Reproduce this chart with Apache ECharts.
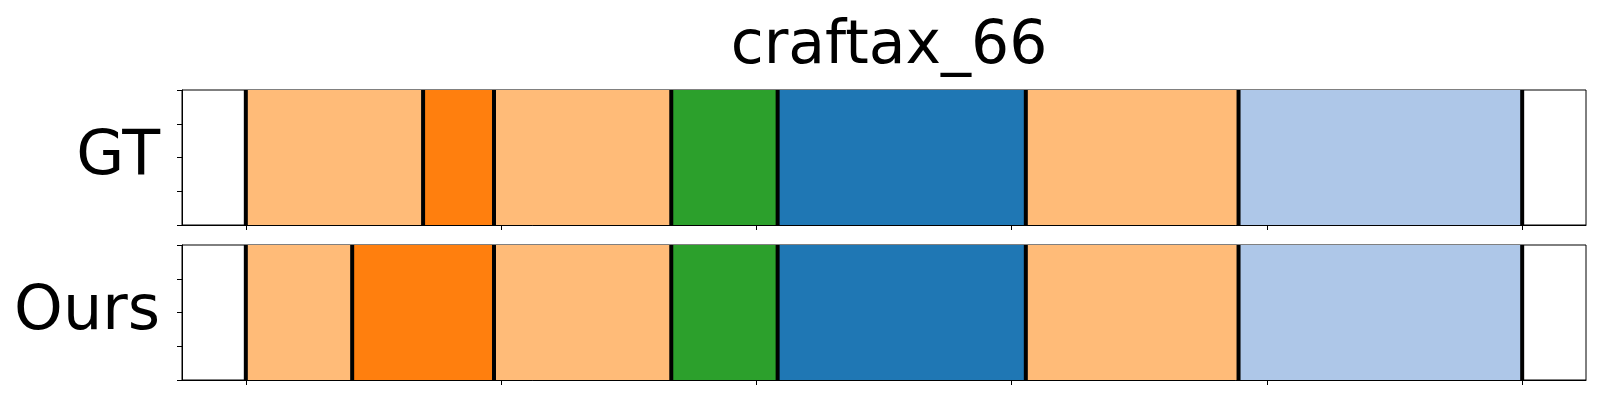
<!DOCTYPE html>
<html>
<head>
<meta charset="utf-8">
<script src="https://cdn.jsdelivr.net/npm/echarts@6/dist/echarts.min.js"></script>
<style>html,body{margin:0;padding:0;background:#fff}#c{width:1600px;height:400px}</style>
</head>
<body>
<div id="c"></div>
<script>
// ---- data ----
const chartTitle = 'craftax_66';
const rowNames = ['GT', 'Ours'];
const totalSteps = 36;
// segment boundaries (in steps) and the class of each segment
const gtBounds = [0, 5, 7, 12, 15, 22, 28, 36];
const gtClasses = [3, 2, 3, 4, 0, 3, 1];
const oursBounds = [0, 3, 7, 12, 15, 22, 28, 36];
const oursClasses = [3, 2, 3, 4, 0, 3, 1];
// tab20 palette
const palette = ['#1f77b4', '#aec7e8', '#ff7f0e', '#ffbb78', '#2ca02c', '#98df8a'];
const xTicks = [0, 0.2, 0.4, 0.6, 0.8, 1.0];
const yTicks = [0, 0.25, 0.5, 0.75, 1];

function segData(bounds, classes) {
  const out = [];
  for (let i = 0; i < classes.length; i++) {
    out.push([bounds[i] / totalSteps, bounds[i + 1] / totalSteps, classes[i]]);
  }
  return out;
}
function lineData(bounds) {
  return bounds.map(b => [b / totalSteps]);
}

const chart = echarts.init(document.getElementById('c'), null, {renderer: 'canvas'});
const tops = [90, 245];
const grids = tops.map(t => ({
  left: 182, right: 14, top: t, height: 135, show: true,
  borderColor: '#000', borderWidth: 1, backgroundColor: 'transparent'
}));
const xAxes = tops.map((t, i) => ({
  type: 'value', gridIndex: i, min: -0.05, max: 1.05,
  axisLine: {show: true, onZero: false, lineStyle: {color: '#000', width: 1}},
  axisTick: {show: true, customValues: xTicks, length: 5, lineStyle: {color: '#000', width: 1}},
  axisLabel: {show: false},
  splitLine: {show: false}
}));
const yAxes = tops.map((t, i) => ({
  type: 'value', gridIndex: i, min: 0, max: 1, interval: 0.25,
  name: rowNames[i], nameLocation: 'middle', nameRotate: 0, nameGap: 22,
  nameTextStyle: {fontSize: 62, color: '#000', fontFamily: 'DejaVu Sans', padding: [0, 0, 12, 0]},
  axisLine: {show: true, onZero: false, lineStyle: {color: '#000', width: 1}},
  axisTick: {show: true, length: 5, customValues: yTicks, lineStyle: {color: '#000', width: 1}},
  axisLabel: {show: false},
  splitLine: {show: false}
}));

function rectRender(params, api) {
  const x0 = api.value(0), x1 = api.value(1), cls = api.value(2);
  const p0 = api.coord([x0, 1]);
  const p1 = api.coord([x1, 0]);
  return {
    type: 'rect',
    shape: {x: p0[0], y: p0[1], width: p1[0] - p0[0], height: p1[1] - p0[1]},
    style: {fill: palette[cls], stroke: null}
  };
}
function lineRender(params, api) {
  const x = api.value(0);
  const a = api.coord([x, 1]);
  const b = api.coord([x, 0]);
  return {
    type: 'line',
    shape: {x1: a[0], y1: a[1], x2: b[0], y2: b[1]},
    style: {stroke: '#000', lineWidth: 4}
  };
}

const allBounds = [gtBounds, oursBounds];
const allClasses = [gtClasses, oursClasses];
const series = [];
tops.forEach((t, i) => {
  series.push({
    type: 'custom', xAxisIndex: i, yAxisIndex: i, renderItem: rectRender,
    data: segData(allBounds[i], allClasses[i]), silent: true, animation: false
  });
  series.push({
    type: 'custom', xAxisIndex: i, yAxisIndex: i, renderItem: lineRender,
    data: lineData(allBounds[i]), silent: true, animation: false, z: 3
  });
});

chart.setOption({
  animation: false,
  backgroundColor: '#fff',
  title: {
    text: chartTitle, left: 884, top: 12, textAlign: 'center',
    textStyle: {fontSize: 60, fontWeight: 'normal', color: '#000', fontFamily: 'DejaVu Sans'}
  },
  grid: grids,
  xAxis: xAxes,
  yAxis: yAxes,
  series: series
});
</script>
</body>
</html>
